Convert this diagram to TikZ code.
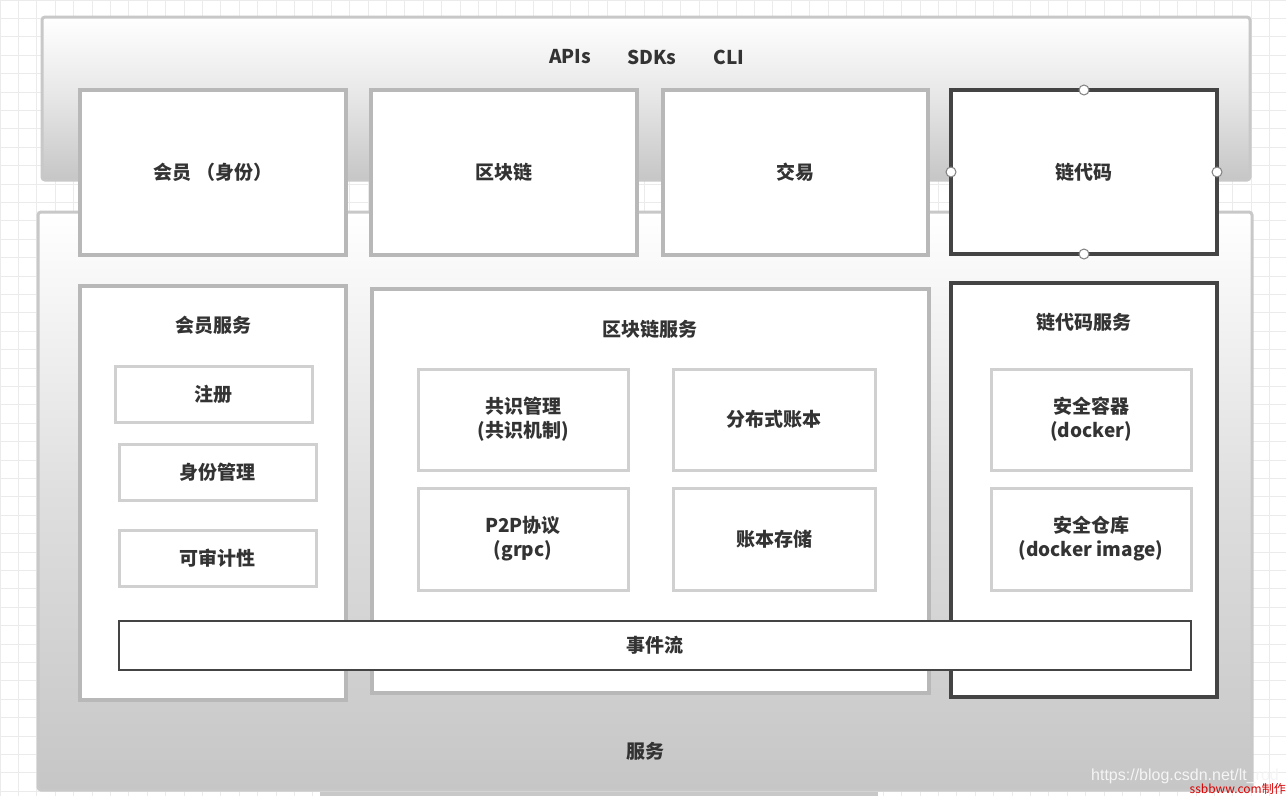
\documentclass[tikz,border=0pt]{standalone}
\usepackage{fontspec}
\setmainfont{Noto Sans CJK SC}
\newfontfamily\wmfont{Liberation Sans}

\definecolor{txt}{HTML}{333333}
\definecolor{layerframe}{HTML}{C8C8C8}
\definecolor{boxframe}{HTML}{B8B8B8}
\definecolor{subframe}{HTML}{D0D0D0}
\definecolor{darkframe}{HTML}{444444}
\definecolor{gridline}{HTML}{EBEBEB}
\definecolor{layerbottom}{HTML}{C6C6C6}
\definecolor{layermid}{HTML}{E6E6E6}
\definecolor{svcmid}{HTML}{DEDEDE}

\tikzset{
  lbl/.style={font=\fontsize{19}{24}\selectfont\bfseries, text=txt, align=center},
  layer/.style={draw=layerframe, line width=3pt, rounded corners=3pt, outer sep=0pt},
  card/.style={draw=boxframe, fill=white, line width=4pt, outer sep=0pt, lbl},
  subcard/.style={draw=subframe, fill=white, line width=3pt, outer sep=0pt, lbl},
  darkcard/.style={draw=darkframe, fill=white, line width=4pt, outer sep=0pt, lbl},
  eventbar/.style={draw=darkframe, fill=white, line width=2pt, outer sep=0pt, lbl},
  handle/.style={circle, draw=gray, fill=white, line width=1pt, minimum size=10pt, inner sep=0pt},
}

\begin{document}
\begin{tikzpicture}[x=1pt, y=-1pt]
  % canvas and grid paper
  \fill[white] (0,0) rectangle (1286,796);
  \useasboundingbox (0,0) rectangle (1286,796);
  \foreach \g in {0,18.4,...,1286} \draw[gridline, line width=1pt] (\g,0) -- (\g,796);
  \foreach \g in {0,18.4,...,796} \draw[gridline, line width=1pt] (0,\g) -- (1286,\g);
  \fill[layerframe] (320,792) rectangle (878,796);

  % service layer
  \node[layer, top color=white, bottom color=layerbottom, middle color=svcmid,
        minimum width=1214pt, minimum height=578pt] (svc) at (645,501) {};
  \node[lbl] (svclabel) at (645,751) {服务};

  % API layer
  \node[layer, top color=white, bottom color=layerbottom, middle color=layermid,
        minimum width=1208pt, minimum height=163pt] (api) at (646,98.5) {};
  \node[lbl] (apis) at (570,57) {APIs};
  \node[lbl] (sdks) at (652,57) {SDKs};
  \node[lbl] (cli) at (729,57) {CLI};

  % top row of modules
  \node[card, minimum width=266pt, minimum height=165pt] (member) at (213,172.5) {会员 （身份）};
  \node[card, minimum width=266pt, minimum height=165pt] (chain) at (504,172.5) {区块链};
  \node[card, minimum width=265pt, minimum height=165pt] (trade) at (795.5,172.5) {交易};
  \node[darkcard, minimum width=266pt, minimum height=164pt] (code) at (1084,172) {链代码};

  % member service
  \node[card, minimum width=266pt, minimum height=414pt] (membersvc) at (213,493) {};
  \node[lbl] (membersvctitle) at (213,325) {会员服务};
  \node[subcard, minimum width=197pt, minimum height=56pt] (register) at (213.5,394) {注册};
  \node[subcard, minimum width=197pt, minimum height=56pt] (identity) at (217.5,472) {身份管理};
  \node[subcard, minimum width=197pt, minimum height=56pt] (audit) at (217.5,558) {可审计性};

  % blockchain service
  \node[card, minimum width=557pt, minimum height=404pt] (chainsvc) at (650.5,491) {};
  \node[lbl] (chainsvctitle) at (650,329) {区块链服务};
  \node[subcard, minimum width=210pt, minimum height=101pt] (consensus) at (523,419.5) {共识管理\\(共识机制)};
  \node[subcard, minimum width=202pt, minimum height=101pt] (ledger) at (774,419.5) {分布式账本};
  \node[subcard, minimum width=210pt, minimum height=102pt] (p2p) at (523,539) {P2P协议\\(grpc)};
  \node[subcard, minimum width=202pt, minimum height=102pt] (storage) at (774,539) {账本存储};

  % chaincode service
  \node[darkcard, minimum width=266pt, minimum height=414pt] (codesvc) at (1084,490) {};
  \node[lbl] (codesvctitle) at (1084,322) {链代码服务};
  \node[subcard, minimum width=200pt, minimum height=101pt] (container) at (1091,419.5) {安全容器\\(docker)};
  \node[subcard, minimum width=200pt, minimum height=102pt] (registry) at (1091,539) {安全仓库\\(docker image)};

  % event stream across the services
  \node[eventbar, minimum width=1072pt, minimum height=49pt] (events) at (655,645.5) {事件流};

  % selection handles of the chaincode module
  \node[handle] (hn) at (code.north) {};
  \node[handle] (hs) at (code.south) {};
  \node[handle] (hw) at (code.west) {};
  \node[handle] (he) at (code.east) {};

  % marks in the corner
  \node[font=\wmfont\fontsize{16}{16}\selectfont, text=white!92!gray] (wm) at (1185,776) {https://blog.csdn.net/lt\_rod};
  \node[font=\fontsize{12}{12}\selectfont, text=red!85!black, anchor=east, inner sep=0pt] (maker) at (1286,789) {ssbbww.com制作};
\end{tikzpicture}
\end{document}
